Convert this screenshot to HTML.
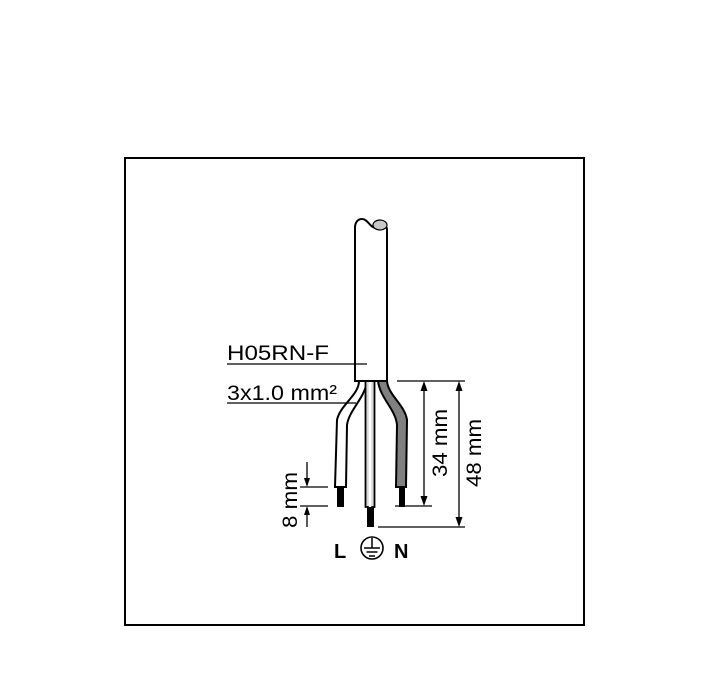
<!DOCTYPE html>
<html><head><style>
html,body{margin:0;padding:0;background:#fff;}
svg{display:block;}
text{font-family:"Liberation Sans",Arial,sans-serif;fill:#000;}
</style></head><body>
<svg width="726" height="698" viewBox="0 0 726 698" xmlns="http://www.w3.org/2000/svg">
<rect x="125" y="158" width="459" height="467" fill="#fff" stroke="#000" stroke-width="2"/>
<!-- wires -->
<path d="M359,381 C359,395 340,405 337,420 L335,487 L346,487 L347,425 C349,410 365,398 367,381 Z" fill="#fff" stroke="#000" stroke-width="2"/>
<path d="M378,381 C380,398 396,410 397,425 L396,487 L406,487 L407,420 C405,405 388,395 387,381 Z" fill="#808080" stroke="#000" stroke-width="2"/>
<rect x="365.5" y="381" width="9" height="126" fill="#d8d8d8" stroke="#000" stroke-width="1.8"/>
<line x1="370" y1="381" x2="370" y2="507" stroke="#fff" stroke-width="2.5"/>
<rect x="337" y="487" width="7" height="20" fill="#000"/>
<rect x="399" y="487" width="6" height="20" fill="#000"/>
<rect x="367" y="507" width="7" height="20" fill="#000"/>
<!-- sheath -->
<path d="M355,381 L355,228 C355,222 358,219 362,219 C368,219 370,228 376,228 C384,228 387,224 387,230 L387,381 Z" fill="#fff" stroke="#000" stroke-width="2"/>
<ellipse cx="380" cy="225" rx="7" ry="5" fill="#c8c8c8" stroke="#000" stroke-width="1.2"/>
<!-- labels -->
<text x="227" y="360" font-size="21" textLength="102" lengthAdjust="spacingAndGlyphs">H05RN-F</text>
<line x1="227" y1="364" x2="367" y2="364" stroke="#000" stroke-width="1.3"/>
<text x="227" y="400" font-size="21" textLength="110" lengthAdjust="spacingAndGlyphs">3x1.0 mm²</text>
<line x1="227" y1="403" x2="356" y2="403" stroke="#000" stroke-width="1.3"/>
<!-- dims -->
<g stroke="#000" stroke-width="1.3" fill="none">
<line x1="397" y1="381" x2="465" y2="381"/>
<line x1="395" y1="506" x2="432" y2="506"/>
<line x1="378" y1="527" x2="465" y2="527"/>
<line x1="424" y1="385" x2="424" y2="502"/>
<line x1="459" y1="385" x2="459" y2="523"/>
<line x1="300" y1="487" x2="328" y2="487"/>
<line x1="300" y1="506" x2="328" y2="506"/>
<line x1="307" y1="462" x2="307" y2="485"/>
<line x1="307" y1="508" x2="307" y2="527"/>
</g>
<g fill="#000">
<polygon points="424,381 420.5,391 427.5,391"/>
<polygon points="424,506 420.5,496 427.5,496"/>
<polygon points="459,381 455.5,391 462.5,391"/>
<polygon points="459,527 455.5,517 462.5,517"/>
<polygon points="307,487 304,478 310,478"/>
<polygon points="307,506 304,515 310,515"/>
</g>
<text transform="translate(447,443) rotate(-90)" font-size="21" text-anchor="middle" textLength="68" lengthAdjust="spacingAndGlyphs">34 mm</text>
<text transform="translate(481,453) rotate(-90)" font-size="21" text-anchor="middle" textLength="68" lengthAdjust="spacingAndGlyphs">48 mm</text>
<text transform="translate(297,500) rotate(-90)" font-size="21" text-anchor="middle" textLength="56" lengthAdjust="spacingAndGlyphs">8 mm</text>
<!-- L earth N -->
<text x="334" y="558" font-size="20" font-weight="bold">L</text>
<text x="394" y="558" font-size="20" font-weight="bold">N</text>
<circle cx="372" cy="548" r="11" fill="none" stroke="#000" stroke-width="1.6"/>
<g stroke="#000" stroke-width="1.5">
<line x1="372" y1="538" x2="372" y2="548"/>
<line x1="364" y1="548" x2="380" y2="548"/>
<line x1="366.5" y1="552" x2="377.5" y2="552"/>
<line x1="369" y1="556" x2="375" y2="556"/>
</g>
</svg>
</body></html>
